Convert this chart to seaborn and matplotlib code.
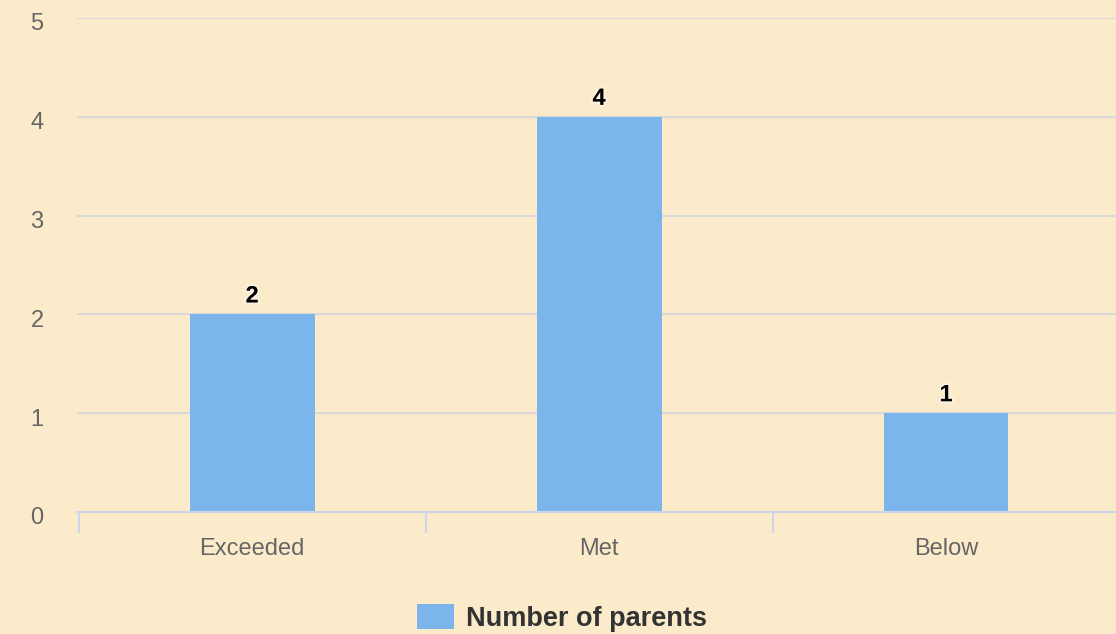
import matplotlib
matplotlib.use("Agg")
import matplotlib.pyplot as plt
import matplotlib.patheffects as pe
import matplotlib.transforms as mtrans
from matplotlib.patches import Patch
import seaborn as sns
import pandas as pd

categories = ["Exceeded", "Met", "Below"]
values = [2, 4, 1]
series_name = "Number of parents"
yticks = [0, 1, 2, 3, 4, 5]

bg = "#FBEBCA"
bar_color = "#7CB5EC"

sns.set_theme(style="white")
plt.rcParams["font.family"] = ["Liberation Sans", "DejaVu Sans"]

fig = plt.figure(figsize=(11.16, 6.34), dpi=100, facecolor=bg)
ax = fig.add_axes([77/1116, 1 - 512/634, 1 - 77/1116, (512 - 18)/634])
ax.set_facecolor(bg)

df = pd.DataFrame({"category": categories, "value": values})
sns.barplot(data=df, x="category", y="value", color=bar_color, width=0.36,
            saturation=1, linewidth=0, edgecolor="none", ax=ax, zorder=3)

ax.set_xlim(-0.505, len(categories) - 0.51)
ax.set_ylim(0, 5)
ax.set_yticks(yticks)
ax.set_xlabel("")
ax.set_ylabel("")

ax.grid(axis="y", color="#d9d9d9", linewidth=1.5, zorder=0)
ax.grid(axis="x", visible=False)
for s in ["top", "right", "left"]:
    ax.spines[s].set_visible(False)
ax.spines["bottom"].set_color("#ccd6eb")
ax.spines["bottom"].set_linewidth(1.5)
ax.spines["bottom"].set_zorder(4)

ax.tick_params(axis="y", length=0, pad=24, labelsize=17, labelcolor="#666666")
ax.tick_params(axis="x", which="major", length=0, pad=19, labelsize=17, labelcolor="#666666")
ax.set_xticks([i - 0.5 for i in range(len(categories))], minor=True)
ax.tick_params(axis="x", which="minor", bottom=True, length=15, width=1.5,
               color="#ccd6eb", direction="out")

shift = mtrans.ScaledTranslation(0, -4/100, fig.dpi_scale_trans)
for lab in ax.get_yticklabels():
    lab.set_transform(lab.get_transform() + shift)

for c in ax.containers:
    labels = ax.bar_label(c, labels=[str(v) for v in values], padding=5,
                          fontsize=17, fontweight="bold", color="black")
    for t in labels:
        t.set_path_effects([pe.withStroke(linewidth=3, foreground="white", alpha=0.4)])

handle = Patch(facecolor=bar_color, edgecolor="none")
fig.legend([handle], [series_name], loc="center",
           bbox_to_anchor=(562/1116, 1 - 618/634), frameon=False,
           prop={"weight": "bold", "size": 19.5}, labelcolor="#333333",
           handlelength=1.35, handleheight=1.05, handletextpad=0.45)

fig.savefig("out.png", dpi=100, facecolor=bg)
